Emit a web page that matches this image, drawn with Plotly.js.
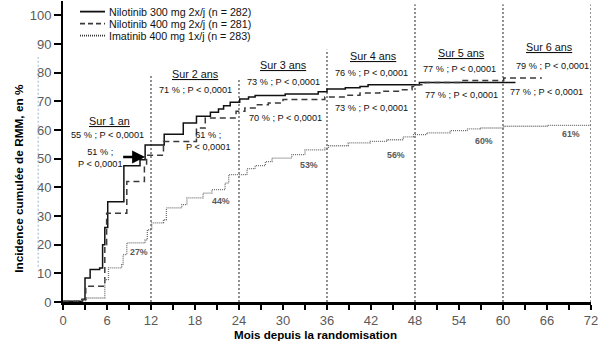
<!DOCTYPE html>
<html>
<head>
<meta charset="utf-8">
<script src="https://cdn.plot.ly/plotly-3.0.1.min.js"></script>
<style>html,body{margin:0;padding:0;background:#fff;}#chart{width:605px;height:348px;}</style>
</head>
<body>
<div id="chart"></div>
<script>
// ---- Data ----
const seriesNames = ["Nilotinib 300 mg 2x/j (n = 282)", "Nilotinib 400 mg 2x/j (n = 281)", "Imatinib 400 mg 1x/j (n = 283)"];

const nil300Months = [0, 2.6, 3.0, 3.7, 5.0, 5.4, 5.7, 6.1, 8.3, 10.5, 11.2, 13.8, 16.4, 18.2, 20.1, 21.2, 21.9, 22.8, 24.1, 25.3, 26.2, 30.3, 34.8, 36.0, 38.5, 40.5, 41.6, 48.6, 61.7];
const nil300Values = [0.3, 1.0, 8.4, 11.3, 11.9, 20, 26, 35, 47.5, 49.6, 54.8, 58.5, 62.4, 64.8, 66.2, 67.3, 68.5, 69.7, 70.8, 71.5, 72, 72.6, 73.3, 74.3, 74.7, 75.2, 75.8, 76.6, 76.6];

const nil400Months = [0, 2.6, 3.1, 5.7, 5.95, 8.7, 11.1, 11.4, 13.7, 18.2, 19.4, 23.6, 24.8, 26.2, 28, 30, 35.7, 38.5, 40.5, 43.2, 46, 47.6, 48.2, 49.4, 54.2, 60.1, 65.3];
const nil400Values = [0.3, 0.8, 5.5, 20, 31, 42, 47.3, 51.2, 56, 60.7, 64.2, 66.5, 67.7, 68.8, 69.4, 70.6, 71.5, 72.1, 72.9, 73.5, 74, 75.2, 75.8, 76.6, 77.3, 78.1, 78.1];

const imaMonths = [0, 3.2, 5.7, 6.2, 8.0, 8.2, 8.7, 11.2, 11.5, 12.1, 13.7, 14.1, 16.2, 16.9, 19.1, 20.3, 22.1, 22.6, 25.1, 26.2, 27.6, 28.5, 31.2, 33, 35.7, 36.2, 38.9, 41.9, 44.2, 46.4, 47.8, 49.6, 52.8, 55.1, 56.9, 60.1, 66, 71.9];
const imaValues = [0.5, 1.4, 7.8, 11.9, 13, 16.5, 20.6, 21.7, 25.2, 27.6, 28.7, 32.8, 34, 36.3, 38, 39.2, 41.5, 44.4, 46.5, 47.6, 49, 50.2, 51.4, 53.1, 53.7, 54.5, 55.5, 56, 56.6, 57.6, 58.4, 59, 59.8, 60.4, 60.7, 61.3, 61.6, 61.9];

const dividerMonths = [12, 24, 36, 48, 60, 72];
const dividerTops = [79, 78, 88, 103.8, 103.8, 103.8];

const periodLabels = ["Sur 1 an", "Sur 2 ans", "Sur 3 ans", "Sur 4 ans", "Sur 5 ans", "Sur 6 ans"];
const nil300Labels = ["55 % ; P < 0,0001", "71 % ; P < 0,0001", "73 % ; P < 0,0001", "76 % ; P < 0,0001", "77 % ; P < 0,0001", "79 % ; P < 0,0001"];
const nil400Labels = ["51 % ;<br>P < 0,0001", "61 % ;<br>P < 0,0001", "70 % ; P < 0,0001", "73 % ; P < 0,0001", "77 % ; P < 0,0001", "77 % ; P < 0,0001"];
const imaLabels = ["27%", "44%", "53%", "56%", "60%", "61%"];

const xTicks = [0, 6, 12, 18, 24, 30, 36, 42, 48, 54, 60, 66, 72];
const yTicks = [0, 10, 20, 30, 40, 50, 60, 70, 80, 90, 100];

// ---- positions (layout only) ----
const periodPos = [[6.4, 63.3], [18, 79.6], [30.1, 82.6], [42.4, 85.7], [54.4, 86.9], [66.4, 88.8]];
const nil300Pos = [[6, 58.4], [18, 74], [30, 76.6], [42, 79.9], [54.1, 81.3], [66.7, 82.2]];
const nil400Pos = [[5.1, 50.4], [19.9, 56.2], [30.4, 64.2], [42, 67.7], [54.3, 72.1], [65.9, 73.3]];
const imaPos = [[10.4, 17.3], [21.5, 35.3], [33.5, 47.9], [45.4, 51.4], [57.4, 56], [69.3, 58.7]];

const FONT = "Liberation Sans, Arial, sans-serif";
const styles = [
  {color: "#111111", dash: "solid", width: 1.5},
  {color: "#3a3a3a", dash: "6px,4px", width: 1.5},
  {color: "#707070", dash: "1px,1px", width: 1.3}
];

const data = [
  {x: nil300Months, y: nil300Values, mode: "lines", line: {shape: "hv", color: styles[0].color, dash: styles[0].dash, width: styles[0].width}, name: seriesNames[0], showlegend: false},
  {x: nil400Months, y: nil400Values, mode: "lines", line: {shape: "hv", color: styles[1].color, dash: styles[1].dash, width: styles[1].width}, name: seriesNames[1], showlegend: false},
  {x: imaMonths, y: imaValues, mode: "lines", line: {shape: "hv", color: styles[2].color, dash: styles[2].dash, width: styles[2].width}, name: seriesNames[2], showlegend: false}
];

const shapes = [];
dividerMonths.forEach((m, i) => {
  shapes.push({type: "line", xref: "x", yref: "y", x0: m, x1: m, y0: 0, y1: dividerTops[i], line: {color: "#222", width: 1, dash: "2px,2px"}, layer: "below"});
});
// faint blue artifact line at left
shapes.push({type: "line", xref: "paper", yref: "y", x0: -0.047, x1: -0.047, y0: 12.3, y1: 85.5, line: {color: "#9fb4d0", width: 1, dash: "2px,2px"}});

const annotations = [];
const legendY = [101.3, 97.1, 92.9];
seriesNames.forEach((n, i) => {
  shapes.push({type: "line", xref: "x", yref: "y", x0: 2.32, x1: 5.73, y0: legendY[i], y1: legendY[i], line: {color: i === 2 ? "#333" : styles[i].color, width: 1.8, dash: i === 0 ? "solid" : (i === 1 ? "5px,3px" : "1px,1px")}});
  annotations.push({x: 6.0, y: legendY[i], xref: "x", yref: "y", text: n, showarrow: false, xanchor: "left", yanchor: "middle", font: {size: 10.7, color: "#111", family: FONT}});
});

periodLabels.forEach((t, i) => {
  annotations.push({x: periodPos[i][0], y: periodPos[i][1], text: "<u>" + t + "</u>", showarrow: false, font: {size: 10.8, color: "#111", family: FONT}});
  annotations.push({x: nil300Pos[i][0], y: nil300Pos[i][1], text: nil300Labels[i], showarrow: false, font: {size: 9.2, color: "#111", family: FONT}});
  annotations.push({x: nil400Pos[i][0], y: nil400Pos[i][1], text: nil400Labels[i], showarrow: false, font: {size: 9.2, color: "#111", family: FONT}});
  annotations.push({x: imaPos[i][0], y: imaPos[i][1], text: "<b>" + imaLabels[i] + "</b>", showarrow: false, font: {size: 8.8, color: "#5a5a5a", family: FONT}});
});

// arrow at 1 year
annotations.push({x: 11.2, y: 50.6, ax: 8.0, ay: 50.6, xref: "x", yref: "y", axref: "x", ayref: "y", text: "", showarrow: true, arrowhead: 2, arrowsize: 1, arrowwidth: 2.6, arrowcolor: "#000"});

// axis titles
annotations.push({x: 34.4, y: 0, xref: "x", yref: "paper", yshift: -32.5, yanchor: "middle", xanchor: "center", text: "<b>Mois depuis la randomisation</b>", showarrow: false, font: {size: 11.6, color: "#000", family: FONT}});
annotations.push({x: 0, xref: "paper", xshift: -44, xanchor: "center", yanchor: "middle", y: 43, yref: "y", text: "<b>Incidence cumulée de RMM, en %</b>", textangle: -90, showarrow: false, font: {size: 11.8, color: "#000", family: FONT}});

const layout = {
  width: 605, height: 348,
  margin: {l: 63, r: 14, t: 1, b: 46},
  paper_bgcolor: "#fff", plot_bgcolor: "#fff",
  showlegend: false,
  font: {family: FONT},
  xaxis: {
    range: [0, 72], tickvals: xTicks, ticktext: xTicks.map(String),
    showgrid: false, zeroline: false,
    showline: true, linecolor: "#000", linewidth: 2.5,
    ticks: "outside", ticklen: 5, tickwidth: 2.5, tickcolor: "#000",
    minor: {dtick: 3, ticks: "outside", ticklen: 5, tickwidth: 2.5, tickcolor: "#000"},
    tickfont: {size: 13, color: "#5a5a5a"}
  },
  yaxis: {
    range: [0, 105], tickvals: yTicks, ticktext: yTicks.map(String),
    showgrid: false, zeroline: false,
    showline: true, linecolor: "#000", linewidth: 2,
    ticks: "outside", ticklen: 7, tickwidth: 2, tickcolor: "#000",
    tickfont: {size: 13, color: "#5a5a5a"}
  },
  shapes: shapes,
  annotations: annotations
};

Plotly.newPlot("chart", data, layout, {staticPlot: true, displayModeBar: false});
</script>
</body>
</html>
